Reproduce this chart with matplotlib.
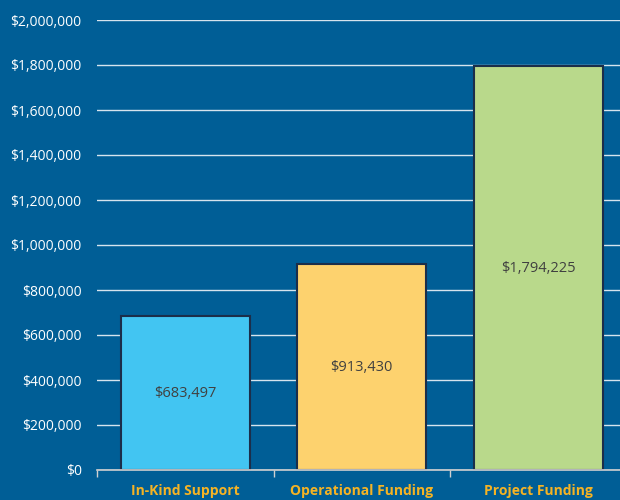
import matplotlib
matplotlib.use("Agg")
import matplotlib.pyplot as plt
from matplotlib.ticker import FuncFormatter, MultipleLocator

categories = ["In-Kind Support", "Operational Funding", "Project Funding"]
values = [683497, 913430, 1794225]
colors = ["#42C5F2", "#FDD26E", "#B9D98B"]

bg = "#005E96"
plt.rcParams["font.family"] = ["Open Sans", "DejaVu Sans"]

fig = plt.figure(figsize=(6.2, 5.0), dpi=100, facecolor=bg)
ax = fig.add_axes([97 / 620, 30 / 500, 523 / 620, 450 / 500], facecolor=bg)

x = list(range(len(categories)))
ax.bar(x, values, width=0.73, color=colors, edgecolor="#1B2E4A", linewidth=1.5, zorder=3)
for xi, v in zip(x, values):
    ax.text(xi, v / 2, f"${v:,}", ha="center", va="center", fontsize=10.5, color="#404040", zorder=4)

ax.set_ylim(0, 2000000)
ax.set_xlim(-0.5, -0.5 + 523 / 176.5)
ax.yaxis.set_major_locator(MultipleLocator(200000))
ax.yaxis.set_major_formatter(FuncFormatter(lambda v, p: f"${v:,.0f}"))
ax.grid(axis="y", color="#D6E4EE", linewidth=1, zorder=0)
ax.tick_params(axis="y", length=0, labelcolor="white", labelsize=10, pad=11)

ax.set_xticks(x)
ax.set_xticklabels(categories, color="#F5B324", fontweight="bold", fontsize=10)
ax.set_xticks([-0.5, 0.5, 1.5], minor=True)
ax.tick_params(axis="x", which="major", length=0, pad=10)
ax.tick_params(axis="x", which="minor", length=5, color="#D0D0D0", width=1)

for s in ["top", "right", "left"]:
    ax.spines[s].set_visible(False)
ax.spines["bottom"].set_color("#D0D0D0")
ax.spines["bottom"].set_linewidth(1.2)
ax.spines["bottom"].set_zorder(5)

fig.savefig("out.png", dpi=100, facecolor=bg)
